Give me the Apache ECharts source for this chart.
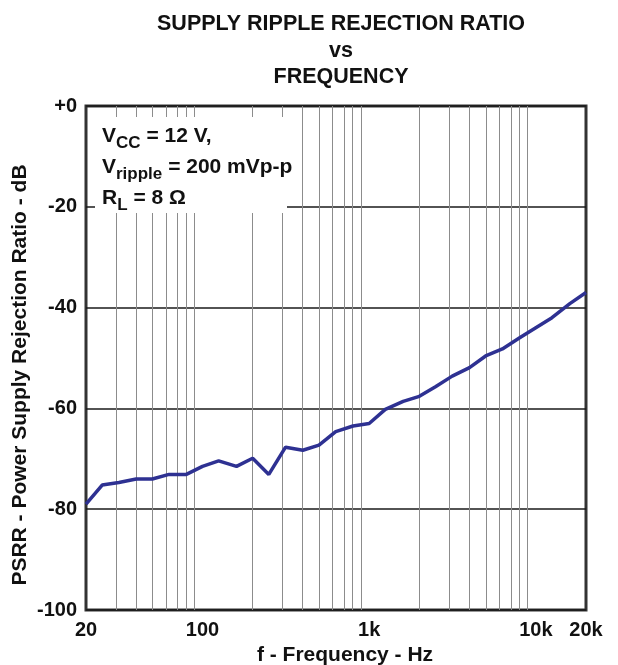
<!DOCTYPE html>
<html>
<head>
<meta charset="utf-8">
<script src="https://cdn.jsdelivr.net/npm/echarts@6/dist/echarts.min.js"></script>
<style>
html,body{margin:0;padding:0;background:#fff;}
#chart{width:618px;height:665px;}
</style>
</head>
<body>
<div id="chart"></div>
<script>
// ---- data ----
const freqHz = [20, 25, 31.5, 40, 50, 63, 80, 100, 125, 160, 200, 250, 315, 400, 500, 630, 800,
  1000, 1250, 1600, 2000, 2500, 3150, 4000, 5000, 6300, 8000, 10000, 12500, 16000, 20000];
const psrrDb = [-79.0, -75.2, -74.7, -74.0, -74.0, -73.1, -73.1, -71.5, -70.4, -71.5, -69.9, -73.1,
  -67.7, -68.3, -67.3, -64.6, -63.5, -63.0, -60.2, -58.6, -57.6, -55.7, -53.6, -51.9, -49.6,
  -48.2, -46.0, -44.0, -42.0, -39.2, -37.0];
const xTickValues = [20, 100, 1000, 10000, 20000];
const xTickLabels = ['20', '100', '1k', '10k', '20k'];
const xGridFreqs = [30, 40, 50, 60, 70, 80, 90, 200, 300, 400, 500, 600, 700, 800, 900,
  2000, 3000, 4000, 5000, 6000, 7000, 8000, 9000];
const yMin = -100, yMax = 0, yStep = 20;

const FONT = '"Liberation Sans", Arial, Helvetica, sans-serif';
const chart = echarts.init(document.getElementById('chart'), null, {renderer: 'canvas'});
const lg = v => Math.log10(v);
const tickLog = xTickValues.map(lg);

chart.setOption({
  animation: false,
  backgroundColor: '#fff',
  title: {
    text: 'SUPPLY RIPPLE REJECTION RATIO\nvs\nFREQUENCY',
    left: 336, top: 6, textAlign: 'center',
    textStyle: {fontFamily: FONT, fontWeight: 'bold', fontSize: 21.5, lineHeight: 26.5, color: '#111'}
  },
  grid: {left: 86, right: 32, top: 106, bottom: 55, show: true, borderColor: '#333', borderWidth: 3, backgroundColor: 'transparent'},
  xAxis: {
    type: 'value', min: lg(20), max: lg(20000),
    axisLine: {show: false}, axisTick: {show: false}, splitLine: {show: false},
    axisLabel: {
      customValues: tickLog,
      margin: 10,
      fontFamily: FONT, fontWeight: 'bold', fontSize: 20, color: '#111',
      formatter: v => {
        let best = 0, d = Infinity;
        tickLog.forEach((t, i) => { if (Math.abs(t - v) < d) { d = Math.abs(t - v); best = i; } });
        return xTickLabels[best];
      }
    }
  },
  yAxis: {
    type: 'value', min: yMin, max: yMax, interval: yStep,
    axisLine: {show: false}, axisTick: {show: false},
    splitLine: {show: true, lineStyle: {color: '#1a1a1a', width: 1.5}},
    axisLabel: {
      margin: 9, fontFamily: FONT, fontWeight: 'bold', fontSize: 20, color: '#111',
      formatter: v => v === 0 ? '+0' : String(v)
    }
  },
  graphic: [
    {type: 'rect', z: 50, shape: {x: 95, y: 117, width: 192, height: 96}, style: {fill: '#fff'}},
    {type: 'text', z: 60, x: 102, y: 121, style: {
      text: '{m|V}{s|CC}{m| = 12 V,}\n{m|V}{s|ripple}{m| = 200 mVp-p}\n{m|R}{s|L}{m| = 8 Ω}',
      rich: {
        m: {fontFamily: FONT, fontWeight: 'bold', fontSize: 21, lineHeight: 31, fill: '#111'},
        s: {fontFamily: FONT, fontWeight: 'bold', fontSize: 17, lineHeight: 31, padding: [13, 0, 0, 0], fill: '#111'}
      }
    }},
    {type: 'text', z: 60, x: 20, y: 375, rotation: Math.PI / 2, style: {
      text: 'PSRR - Power Supply Rejection Ratio - dB', align: 'center', verticalAlign: 'middle',
      fontFamily: FONT, fontWeight: 'bold', fontSize: 21, fill: '#111'
    }},
    {type: 'text', z: 60, x: 345, y: 655, style: {
      text: 'f - Frequency - Hz', align: 'center', verticalAlign: 'middle',
      fontFamily: FONT, fontWeight: 'bold', fontSize: 21, fill: '#111'
    }}
  ],
  series: [
    {
      type: 'line', data: [], z: 1, silent: true,
      markLine: {
        silent: true, symbol: ['none', 'none'], label: {show: false},
        lineStyle: {color: '#8c8c8c', width: 1, type: 'solid'},
        animation: false,
        data: xGridFreqs.map(f => ({xAxis: lg(f)}))
      }
    },
    {
      type: 'line', z: 5,
      data: freqHz.map((f, i) => [lg(f), psrrDb[i]]),
      showSymbol: false, symbol: 'none',
      lineStyle: {color: '#2E3192', width: 3.5},
      clip: false
    }
  ]
});
</script>
</body>
</html>
